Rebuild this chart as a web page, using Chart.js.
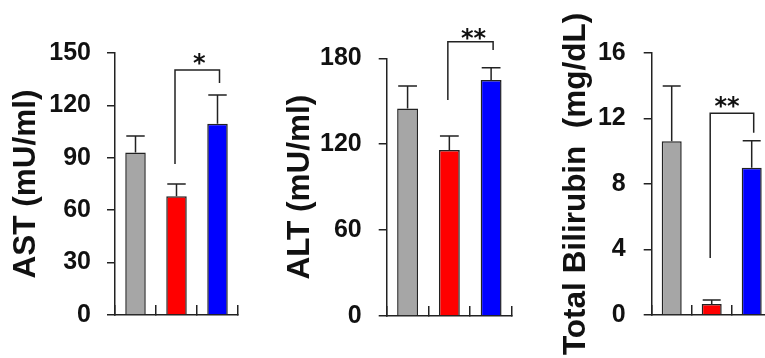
<!DOCTYPE html>
<html><head><meta charset="utf-8">
<script src="https://cdn.jsdelivr.net/npm/chart.js@4"></script>
<style>
html,body{margin:0;padding:0;background:#fff;overflow:hidden;}
#wrap{position:relative;width:765px;height:358px;overflow:hidden;background:#fff;}
canvas{position:absolute;top:0;}
</style></head><body>
<div id="wrap">
<canvas id="c1" width="250" height="358" style="left:0px"></canvas>
<canvas id="c2" width="270" height="358" style="left:250px"></canvas>
<canvas id="c3" width="256" height="358" style="left:520px"></canvas>
</div>
<script>
// ---- data ----
const groups = ['Group 1', 'Group 2', 'Group 3'];
const barColors = ['#A6A6A6', '#FF0000', '#0000FF'];

const astValues = [93, 68, 109.5];
const astErrors = [9.5, 7, 16.5];
const astTicks = [0, 30, 60, 90, 120, 150];

const altValues = [145, 116, 164.8];
const altErrors = [15.6, 9.7, 8.6];
const altTicks = [0, 60, 120, 180];

const tbValues = [10.6, 0.67, 8.98];
const tbErrors = [3.37, 0.24, 1.65];
const tbTicks = [0, 4, 8, 12, 16];

// significance brackets (values in axis units)
const astSig = { from: 1, to: 2, leftBase: 86.5, top: 140.3, rightBase: 132.8, label: '*', labelAt: 148 };
const altSig = { from: 1, to: 2, leftBase: 150.9, top: 191.6, rightBase: 185.8, label: '**', labelAt: 198.5 };
const tbSig = { from: 1, to: 2, leftBase: 3.48, top: 12.3, rightBase: 11.12, label: '**', labelAt: 13.1 };

const LINE = '#222';
const TXT = '#111';
const FONT = '"Liberation Sans", Arial, sans-serif';

const errorBars = {
  id: 'errorBars',
  afterDatasetsDraw(chart, args, opts) {
    const { ctx } = chart;
    const y = chart.scales.y;
    const meta = chart.getDatasetMeta(0);
    const vals = chart.data.datasets[0].data;
    ctx.save();
    ctx.strokeStyle = LINE;
    ctx.lineWidth = 1.5;
    meta.data.forEach((bar, i) => {
      const yTop = y.getPixelForValue(vals[i] + opts.errors[i]);
      const half = bar.width * 0.45;
      ctx.beginPath();
      ctx.moveTo(bar.x, bar.y);
      ctx.lineTo(bar.x, yTop);
      ctx.moveTo(bar.x - half, yTop);
      ctx.lineTo(bar.x + half, yTop);
      ctx.stroke();
    });
    ctx.restore();
  }
};

const sigBracket = {
  id: 'sigBracket',
  afterDraw(chart, args, opts) {
    const s = opts.sig;
    if (!s) return;
    const { ctx } = chart;
    const y = chart.scales.y, x = chart.scales.x;
    const xl = x.getPixelForValue(s.from) - 1.5;
    const xr = x.getPixelForValue(s.to) + 2;
    ctx.save();
    ctx.strokeStyle = LINE;
    ctx.lineWidth = 1.5;
    ctx.beginPath();
    ctx.moveTo(xl, y.getPixelForValue(s.leftBase));
    ctx.lineTo(xl, y.getPixelForValue(s.top));
    ctx.lineTo(xr, y.getPixelForValue(s.top));
    ctx.lineTo(xr, y.getPixelForValue(s.rightBase));
    ctx.stroke();
    const fs = 24;
    ctx.fillStyle = TXT;
    ctx.font = 'bold ' + fs + 'px "DejaVu Sans"';
    ctx.textAlign = 'center';
    ctx.textBaseline = 'alphabetic';
    ctx.fillText(s.label, (xl + xr) / 2 + (opts.labelShift || 0), y.getPixelForValue(s.labelAt) + 0.59 * fs);
    ctx.restore();
  }
};

function makeChart(id, values, errors, ticks, title, sig, geo) {
  return new Chart(document.getElementById(id), {
    type: 'bar',
    data: {
      labels: groups,
      datasets: [{
        data: values,
        backgroundColor: barColors,
        borderColor: LINE,
        borderWidth: 1.5,
        categoryPercentage: 1.0,
        barPercentage: 0.5
      }]
    },
    options: {
      responsive: false,
      animation: false,
      devicePixelRatio: 1,
      layout: { padding: { top: geo.top, bottom: geo.bottom, left: 0, right: geo.right } },
      plugins: {
        legend: { display: false },
        tooltip: { enabled: false },
        errorBars: { errors: errors },
        sigBracket: { sig: sig, labelShift: geo.labelShift }
      },
      scales: {
        x: {
          type: 'category',
          offset: true,
          grid: { offset: true, drawOnChartArea: false, drawTicks: true, tickLength: -10, color: LINE, lineWidth: 1.5 },
          border: { display: true, color: LINE, width: 1.5 },
          ticks: { display: false },
          afterFit(s) { s.height = 0; }
        },
        y: {
          min: ticks[0],
          max: ticks[ticks.length - 1],
          afterBuildTicks(s) { s.ticks = ticks.map(v => ({ value: v })); },
          grid: { drawOnChartArea: false, drawTicks: true, tickLength: 8, color: LINE, lineWidth: 1.5 },
          border: { display: true, color: LINE, width: 1.5 },
          ticks: {
            color: TXT,
            padding: geo.tickPad,
            font: { family: FONT, weight: 'bold', size: 25 },
            callback: v => String(v)
          },
          title: {
            display: true,
            text: title,
            color: TXT,
            font: { family: FONT, weight: 'bold', size: 31.5, lineHeight: 1.2 },
            padding: { top: geo.titlePad, bottom: 0 }
          },
          afterFit(s) { s.width = geo.axisX; }
        }
      }
    },
    plugins: [errorBars, sigBracket]
  });
}

makeChart('c1', astValues, astErrors, astTicks, 'AST (mU/ml)', astSig,
  { top: 53, bottom: 43, right: 12, axisX: 115, titlePad: 7, labelShift: 2, tickPad: 16 });
makeChart('c2', altValues, altErrors, altTicks, 'ALT (mU/ml)', altSig,
  { top: 58.3, bottom: 42, right: 8, axisX: 136.7, titlePad: 31.5, labelShift: 3, tickPad: 17 });
makeChart('c3', tbValues, tbErrors, tbTicks, 'Total Bilirubin  (mg/dL)', tbSig,
  { top: 52.7, bottom: 43, right: 4.3, axisX: 131.7, titlePad: 37, labelShift: -5, tickPad: 18 });
</script>
</body></html>
